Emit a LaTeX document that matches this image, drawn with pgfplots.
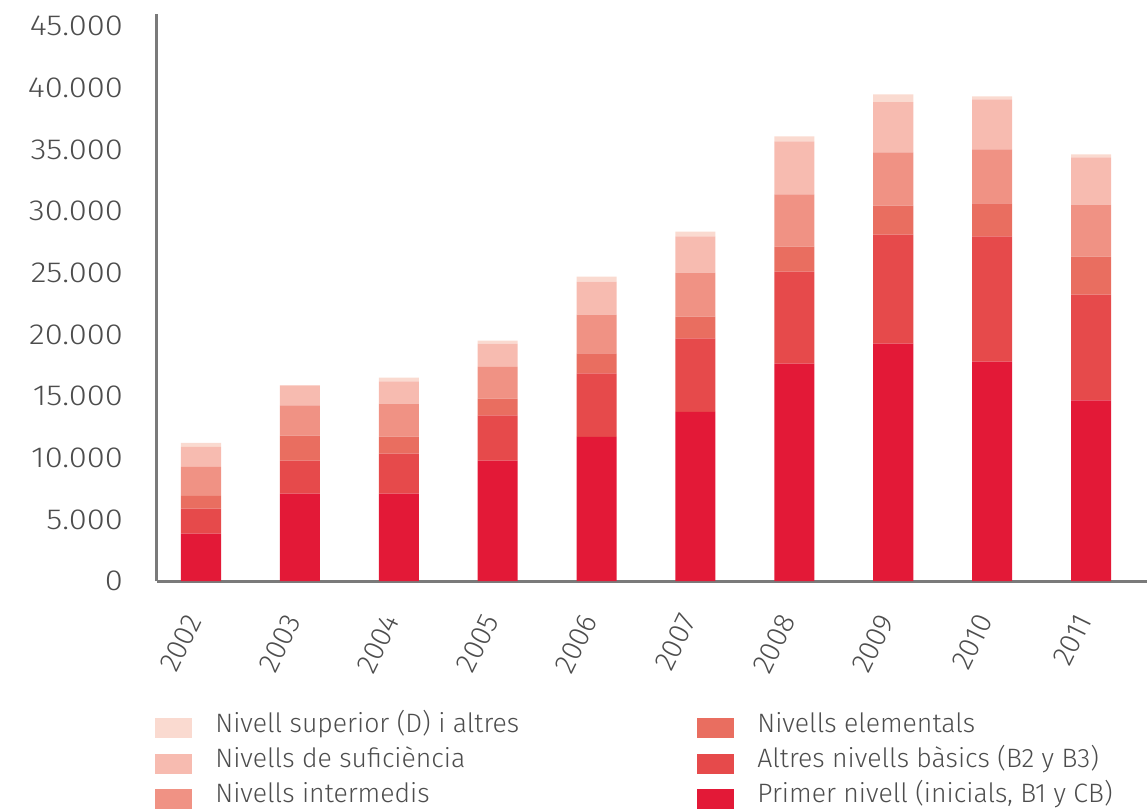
\documentclass[border=0pt]{standalone}
\usepackage{pgfplots}
\pgfplotsset{compat=1.18}
\usepackage{fontspec}
\setmainfont{Fira Sans Light}
\newfontfamily\legfont{Fira Sans Light}
\newfontfamily\numfont{Fira Sans Light}[FakeStretch=1.13]
\definecolor{cPrim}{HTML}{E31937}
\definecolor{cAltr}{HTML}{E64A4B}
\definecolor{cElem}{HTML}{E96E60}
\definecolor{cInte}{HTML}{F09284}
\definecolor{cSufi}{HTML}{F7BBB0}
\definecolor{cSupe}{HTML}{FADAD0}
\definecolor{axgray}{HTML}{7A7A7A}
\definecolor{txgray}{HTML}{4D4D4D}
\begin{document}
\begin{tikzpicture}
\useasboundingbox (-78.5pt,-114.5pt) rectangle (495pt,290.5pt);
\begin{axis}[
  at={(0,0)}, anchor=south west, scale only axis,
  width=495pt, height=283.5pt,
  ybar stacked, bar width=0.405,
  xmin=-0.445, xmax=9.566, ymin=0, ymax=46000,
  axis x line*=bottom, axis y line*=left,
  axis line style={draw=axgray, line width=1.5pt, -},
  major tick length=0pt,
  ytick={0,5000,...,45000},
  scaled y ticks=false,
  /pgf/number format/1000 sep={.},
  /pgf/number format/assume math mode=true,
  yticklabel style={font=\numfont\fontsize{14.5}{16}\selectfont, text=txgray, xshift=-13.5pt},
  xtick={0,...,9},
  xticklabels={2002,2003,2004,2005,2006,2007,2008,2009,2010,2011},
  xticklabel style={font=\fontsize{14.5}{16}\selectfont, text=txgray, xshift=-2pt, yshift=-14.5pt, rotate=64, anchor=east},
  every axis plot/.append style={draw=none},
  legend columns=2,
  legend cell align=left,
  legend style={at={(0,0)}, anchor=north west, xshift=-1pt, yshift=-64.5pt,
    draw=none, fill=none, inner sep=0pt,
    font=\legfont\fontsize{13.3}{15}\selectfont, text=txgray,
    nodes={inner xsep=1pt, inner ysep=1pt, text height=10pt, text depth=3pt},
    row sep=2.6pt,
    /tikz/every odd column/.append style={column sep=10.5pt},
    /tikz/every even column/.append style={column sep=0pt}},
]
\addlegendimage{legend image code/.code={\fill[cSupe] (0pt,-6.5pt) rectangle (18.5pt,3.5pt);}}
\addlegendentry{\makebox[240pt][l]{Nivell superior (D) i altres}}
\addlegendimage{legend image code/.code={\fill[cElem] (0pt,-6.5pt) rectangle (18.5pt,3.5pt);}}
\addlegendentry{Nivells elementals}
\addlegendimage{legend image code/.code={\fill[cSufi] (0pt,-6.5pt) rectangle (18.5pt,3.5pt);}}
\addlegendentry{\makebox[240pt][l]{Nivells de suficiència}}
\addlegendimage{legend image code/.code={\fill[cAltr] (0pt,-6.5pt) rectangle (18.5pt,3.5pt);}}
\addlegendentry{Altres nivells bàsics (B2 y B3)}
\addlegendimage{legend image code/.code={\fill[cInte] (0pt,-6.5pt) rectangle (18.5pt,3.5pt);}}
\addlegendentry{\makebox[240pt][l]{Nivells intermedis}}
\addlegendimage{legend image code/.code={\fill[cPrim] (0pt,-6.5pt) rectangle (18.5pt,3.5pt);}}
\addlegendentry{Primer nivell (inicials, B1 y CB)}

% Primer nivell
\addplot[fill=cPrim] coordinates {(0,3840) (1,7090) (2,7090) (3,9770) (4,11700) (5,13730) (6,17630) (7,19250) (8,17790) (9,14650)};
% Altres nivells basics
\addplot[fill=cAltr] coordinates {(0,2030) (1,2680) (2,3250) (3,3660) (4,5140) (5,5950) (6,7470) (7,8860) (8,10160) (9,8580)};
% Nivells elementals
\addplot[fill=cElem] coordinates {(0,1030) (1,2030) (2,1380) (3,1360) (4,1620) (5,1770) (6,2030) (7,2350) (8,2680) (9,3090)};
% Nivells intermedis
\addplot[fill=cInte] coordinates {(0,2360) (1,2440) (2,2680) (3,2590) (4,3150) (5,3570) (6,4230) (7,4310) (8,4380) (9,4220)};
% Nivells de suficiencia
\addplot[fill=cSufi] coordinates {(0,1630) (1,1630) (2,1790) (3,1870) (4,2680) (5,2930) (6,4300) (7,4090) (8,4060) (9,3820)};
% Nivell superior
\addplot[fill=cSupe] coordinates {(0,320) (1,0) (2,300) (3,250) (4,410) (5,400) (6,410) (7,620) (8,250) (9,250)};
\end{axis}
\end{tikzpicture}
\end{document}
